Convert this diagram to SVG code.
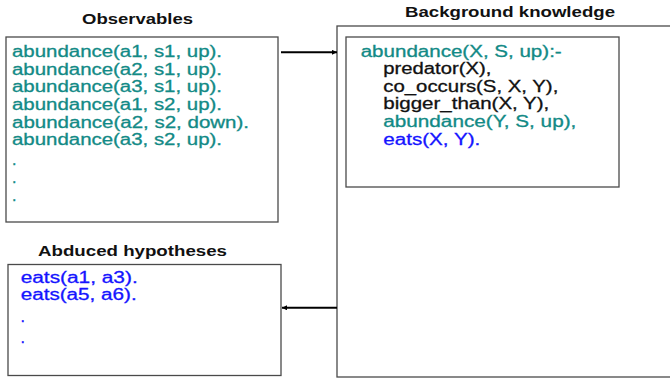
<svg xmlns="http://www.w3.org/2000/svg" width="670" height="378" viewBox="0 0 670 378">
  <style>
    .box { fill: #ffffff; stroke: #4a4a4a; stroke-width: 1.3; }
    .title { font-family: "Liberation Sans", Arial, sans-serif; font-size: 15px; font-weight: bold; fill: #111111; }
    .code { font-family: "Liberation Sans", Arial, sans-serif; font-size: 16px; stroke-width: 0.3; }
    .teal { fill: #128a86; stroke: #128a86; }
    .blue { fill: #1414ff; stroke: #1414ff; }
    .black { fill: #111111; stroke: #111111; }
    .link { stroke: #000000; stroke-width: 2; fill: none; }
  </style>
  <defs>
    <marker id="head" viewBox="0 0 10 10" refX="10" refY="5" markerWidth="6" markerHeight="5" markerUnits="userSpaceOnUse" orient="auto">
      <path d="M0,0 L10,5 L0,10 Z" fill="#000000"/>
    </marker>
  </defs>
  <rect width="670" height="378" fill="#ffffff"/>

  <!-- Observables -->
  <g id="observables">
    <text class="title" x="82" y="24" textLength="111" lengthAdjust="spacingAndGlyphs">Observables</text>
    <rect class="box" x="6" y="37" width="272" height="185"/>
    <g class="code teal">
      <text x="12" y="57.3" textLength="210" lengthAdjust="spacingAndGlyphs">abundance(a1, s1, up).</text>
      <text x="12" y="74.8" textLength="210" lengthAdjust="spacingAndGlyphs">abundance(a2, s1, up).</text>
      <text x="12" y="92.3" textLength="210" lengthAdjust="spacingAndGlyphs">abundance(a3, s1, up).</text>
      <text x="12" y="109.9" textLength="210" lengthAdjust="spacingAndGlyphs">abundance(a1, s2, up).</text>
      <text x="12" y="127.5" textLength="237" lengthAdjust="spacingAndGlyphs">abundance(a2, s2, down).</text>
      <text x="12" y="145.1" textLength="210" lengthAdjust="spacingAndGlyphs">abundance(a3, s2, up).</text>
      <text x="12" y="164.5">.</text>
      <text x="12" y="182.5">.</text>
      <text x="12" y="200.5">.</text>
    </g>
  </g>

  <!-- Background knowledge -->
  <g id="background">
    <text class="title" x="405" y="16.5" textLength="210" lengthAdjust="spacingAndGlyphs">Background knowledge</text>
    <rect class="box" x="337" y="26" width="345" height="351"/>
    <rect class="box" x="346" y="37" width="273" height="150"/>
    <g class="code">
      <text class="teal" x="360.7" y="56.7" textLength="201" lengthAdjust="spacingAndGlyphs">abundance(X, S, up):-</text>
      <text class="black" x="383.3" y="74.2" textLength="108" lengthAdjust="spacingAndGlyphs">predator(X),</text>
      <text class="black" x="383.3" y="91.8" textLength="175" lengthAdjust="spacingAndGlyphs">co_occurs(S, X, Y),</text>
      <text class="black" x="383.3" y="109.4" textLength="166" lengthAdjust="spacingAndGlyphs">bigger_than(X, Y),</text>
      <text class="teal" x="383.3" y="127.4" textLength="193" lengthAdjust="spacingAndGlyphs">abundance(Y, S, up),</text>
      <text class="blue" x="383.3" y="145.4" textLength="97" lengthAdjust="spacingAndGlyphs">eats(X, Y).</text>
    </g>
  </g>

  <!-- Abduced hypotheses -->
  <g id="abduced">
    <text class="title" x="38" y="256" textLength="189" lengthAdjust="spacingAndGlyphs">Abduced hypotheses</text>
    <rect class="box" x="8" y="264.5" width="273" height="111"/>
    <g class="code blue">
      <text x="20.7" y="282.7" textLength="117" lengthAdjust="spacingAndGlyphs">eats(a1, a3).</text>
      <text x="20.7" y="300.2" textLength="116" lengthAdjust="spacingAndGlyphs">eats(a5, a6).</text>
      <text x="20.5" y="322">.</text>
      <text x="20.5" y="343">.</text>
    </g>
  </g>

  <!-- Connectors -->
  <g id="connectors">
    <line class="link" x1="281" y1="52.3" x2="337" y2="52.3" marker-end="url(#head)"/>
    <line class="link" x1="337" y1="307.8" x2="282" y2="307.8" marker-end="url(#head)"/>
  </g>
</svg>
